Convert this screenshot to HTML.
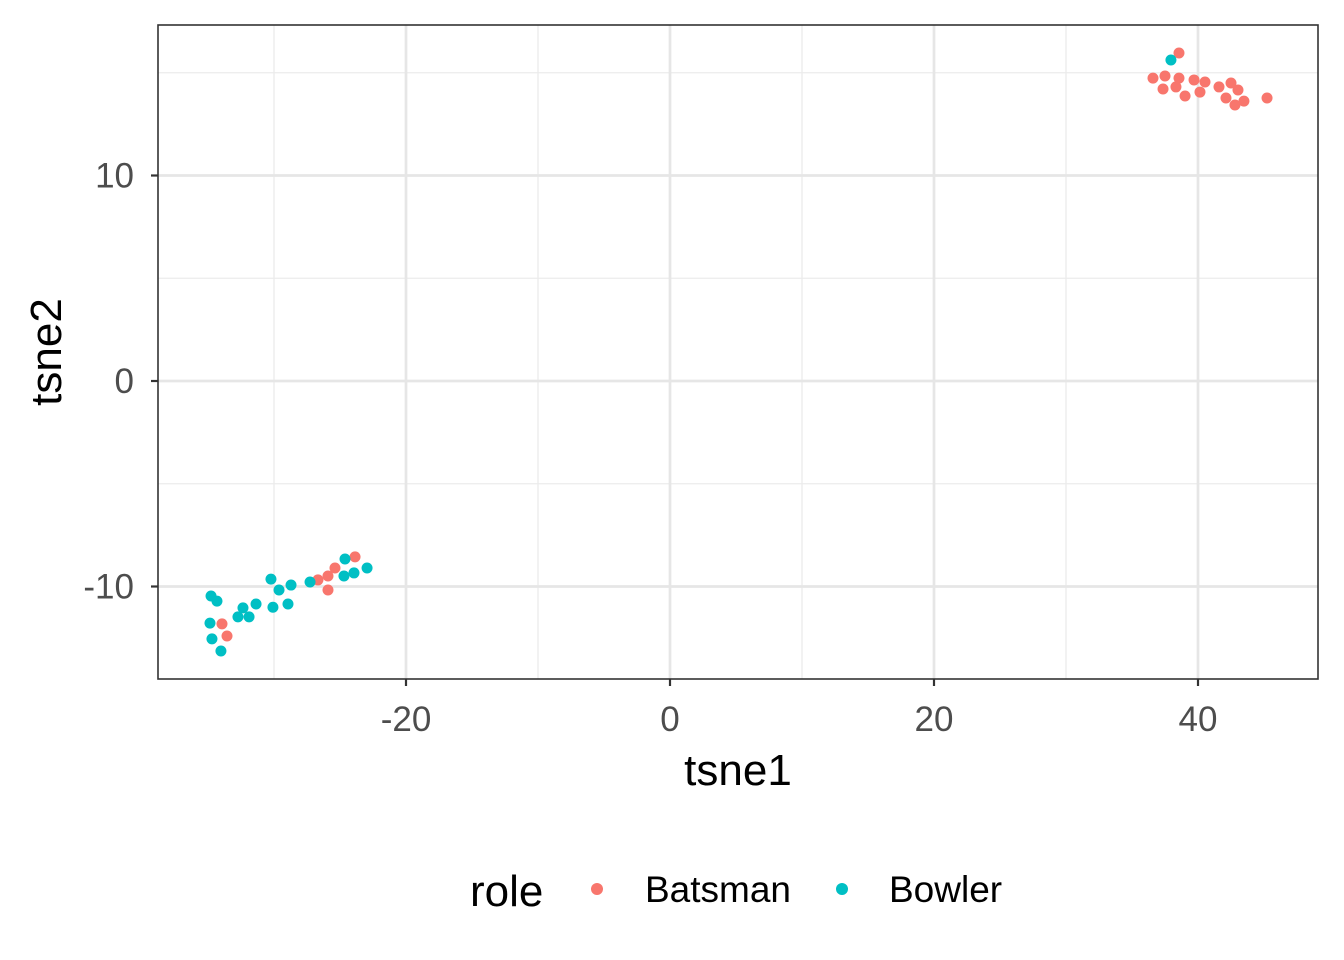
<!DOCTYPE html>
<html><head><meta charset="utf-8"><style>
body{margin:0;background:#fff;}
svg{display:block;font-family:"Liberation Sans",Arial,sans-serif;}
</style></head><body>
<svg id="chart" width="1344" height="960">
<text x="738" y="785" text-anchor="middle" font-size="44">tsne1</text>
<text x="0" y="0" text-anchor="middle" font-size="44" transform="translate(61,352) rotate(-90)">tsne2</text>
<g>
<text x="470" y="906" font-size="44">role</text>
<circle cx="597" cy="889" r="6" fill="#F8766D"/>
<text x="645" y="902" font-size="37">Batsman</text>
<circle cx="842" cy="889" r="6" fill="#00BFC4"/>
<text x="889" y="902" font-size="37">Bowler</text>
</g>
</svg>
<script>
const batX=[38.56,36.59,37.5,38.56,37.35,38.33,39.02,39.7,40.53,40.15,41.59,42.5,42.12,43.03,42.8,43.48,45.23,-23.86,-26.67,-25.91,-25.38,-25.91,-33.94,-33.56];
const batY=[15.96,14.74,14.84,14.74,14.21,14.31,13.87,14.65,14.55,14.06,14.31,14.5,13.77,14.16,13.43,13.62,13.77,-8.56,-9.68,-9.49,-9.1,-10.17,-11.82,-12.41];
const bowX=[37.95,-34.77,-34.32,-34.85,-34.7,-34.02,-32.73,-32.35,-31.89,-31.36,-30.23,-30.08,-29.62,-28.94,-28.71,-27.27,-24.62,-24.7,-23.94,-22.95];
const bowY=[15.62,-10.46,-10.71,-11.78,-12.55,-13.14,-11.48,-11.04,-11.48,-10.85,-9.64,-11.01,-10.17,-10.85,-9.93,-9.78,-8.66,-9.49,-9.34,-9.1];
const xTicks=[-20,0,20,40];
const xMinor=[-30,-10,10,30];
const yTicks=[-10,0,10];
const yMinor=[-5,5,15];
const NS="http://www.w3.org/2000/svg";
const svg=document.getElementById('chart');
const L=158,T=25,R=1318,B=679;
const sx=v=>670+v*13.2;
const sy=v=>381-v*20.55;
function mk(tag,at,parent){const e=document.createElementNS(NS,tag);for(const k in at)e.setAttribute(k,at[k]);(parent||svg).appendChild(e);return e;}
const panel=mk('rect',{x:L,y:T,width:R-L,height:B-T,fill:'#fff'});


xMinor.forEach(v=>{const l=mk('line',{x1:sx(v),x2:sx(v),y1:T,y2:B,stroke:'#ebebeb','stroke-width':1.3});

});
yMinor.forEach(v=>{const l=mk('line',{x1:L,x2:R,y1:sy(v),y2:sy(v),stroke:'#ebebeb','stroke-width':1.3});

});
xTicks.forEach(v=>{const l=mk('line',{x1:sx(v),x2:sx(v),y1:T,y2:B,stroke:'#e6e6e6','stroke-width':2.7});


const t=mk('line',{x1:sx(v),x2:sx(v),y1:B,y2:B+7,stroke:'#333','stroke-width':2.2});


const tx=mk('text',{x:sx(v),y:731,'text-anchor':'middle','font-size':35,fill:'#4d4d4d'});tx.textContent=v;

});
yTicks.forEach(v=>{const l=mk('line',{x1:L,x2:R,y1:sy(v),y2:sy(v),stroke:'#e6e6e6','stroke-width':2.7});


const t=mk('line',{x1:L-7,x2:L,y1:sy(v),y2:sy(v),stroke:'#333','stroke-width':2.2});


const tx=mk('text',{x:L-24,y:sy(v)+12,'text-anchor':'end','font-size':35,fill:'#4d4d4d'});tx.textContent=v;

});
batX.forEach((v,i)=>{const c=mk('circle',{cx:sx(v),cy:sy(batY[i]),r:5.5,fill:'#F8766D'});

});
bowX.forEach((v,i)=>{const c=mk('circle',{cx:sx(v),cy:sy(bowY[i]),r:5.5,fill:'#00BFC4'});

});
const bd=mk('rect',{x:L,y:T,width:R-L,height:B-T,fill:'none',stroke:'#333','stroke-width':1.6});


</script>
</body></html>
